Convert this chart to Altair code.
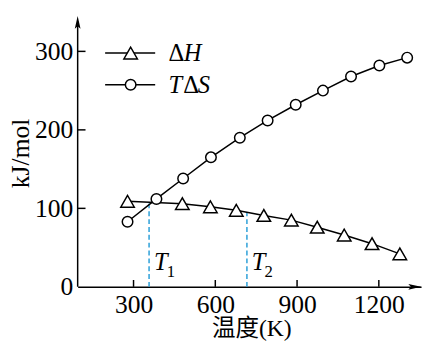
import altair as alt
import pandas as pd

# ---- data ----
tds_temps = [278, 384, 482, 584, 690, 792, 895, 995, 1098, 1202, 1304]
tds_vals = [83, 112, 138, 165, 190, 212, 232, 250, 268, 282, 292]
dh_temps = [278, 479, 582, 677, 778, 879, 974, 1073, 1175, 1277]
dh_vals = [109, 106, 102, 97.5, 91, 85, 76, 66, 55, 42]
t_temps = [357, 716]          # T1, T2
t_vals = [108, 95]            # where the dashed lines meet the ΔH curve
t_subs = ["1", "2"]
x_ticks = [300, 600, 900, 1200]
y_ticks = [100, 200, 300]
y_label_vals = [0, 100, 200, 300]

FONT = "Liberation Serif"
CJK = "Liberation Serif, Noto Sans CJK SC"
FS = 25
BLUE = "#2b9fd8"
H = 281

xs = alt.Scale(domain=[95, 1355], nice=False, zero=False)
ys = alt.Scale(domain=[0, 351.25], nice=False, zero=False)

ds = pd.DataFrame({"T": tds_temps, "v": tds_vals})
dh = pd.DataFrame({"T": dh_temps, "v": dh_vals})
tt = pd.DataFrame({"T": t_temps, "v": t_vals, "z": [0, 0], "sub": t_subs})
xt = pd.DataFrame({"T": x_ticks})
yt = pd.DataFrame({"v": y_ticks})
one = pd.DataFrame({"a": [0]})

xaxis = alt.Axis(values=x_ticks, format="d", title="温度(K)", grid=False, ticks=False, tickSize=0,
                 labelFont=FONT, labelFontSize=26, labelColor="black",
                 labelBaseline="alphabetic", labelPadding=26,
                 domainColor="black", domainWidth=1.5,
                 titleFont=CJK, titleFontSize=24, titleFontWeight="normal", titleColor="black",
                 titleBaseline="middle", titleY=43, titleX=177)
yaxis = alt.Axis(values=y_label_vals, title="kJ/mol", grid=False, ticks=False, tickSize=0,
                 domain=False,
                 labelFont=FONT, labelFontSize=26, labelColor="black",
                 labelBaseline="middle", labelPadding=5,
                 titleFont=FONT, titleFontSize=26, titleFontWeight="normal", titleColor="black",
                 titleBaseline="alphabetic", titleAngle=-90, titleX=-50, titleY=144.5,
                 titleAlign="center")

X = alt.X("T:Q", scale=xs, axis=xaxis)
Y = alt.Y("v:Q", scale=ys, axis=yaxis)

dash = alt.Chart(tt).mark_rule(color=BLUE, strokeWidth=1.5, strokeDash=[5, 3]).encode(
    x=alt.X("T:Q", scale=xs), y=alt.Y("z:Q", scale=ys), y2="v:Q")

line_ds = alt.Chart(ds).mark_line(color="black", strokeWidth=1.5).encode(x=X, y=Y)
line_dh = alt.Chart(dh).mark_line(color="black", strokeWidth=1.5).encode(x=X, y=Y)
pts_ds = alt.Chart(ds).mark_point(shape="circle", size=115, filled=True, fill="white",
                                  stroke="black", strokeWidth=1.5, opacity=1).encode(x=X, y=Y)
pts_dh = alt.Chart(dh).mark_point(shape="triangle-up", size=190, filled=True, fill="white",
                                  stroke="black", strokeWidth=1.5, opacity=1).encode(x=X, y=Y)

xtick = alt.Chart(xt).mark_rule(color="black", strokeWidth=1.5).encode(
    x=alt.X("T:Q", scale=xs), y=alt.value(H), y2=alt.value(H - 7))
ytick = alt.Chart(yt).mark_rule(color="black", strokeWidth=1.5).encode(
    y=alt.Y("v:Q", scale=ys), x=alt.value(0), x2=alt.value(8))
yline = alt.Chart(one).mark_rule(color="black", strokeWidth=1.5).encode(
    x=alt.value(0), y=alt.value(14), y2=alt.value(H))

t_lab = alt.Chart(tt).mark_text(text="T", font=FONT, fontSize=FS, fontStyle="italic",
                                align="left", baseline="alphabetic", dx=5, color="black").encode(
    x=alt.X("T:Q", scale=xs), y=alt.value(263.5))
t_sub = alt.Chart(tt).mark_text(font=FONT, fontSize=17, align="left", baseline="alphabetic",
                                dx=18, color="black").encode(
    x=alt.X("T:Q", scale=xs), y=alt.value(271), text="sub:N")


def txt(s, x, y, italic=False):
    return alt.Chart(one).mark_text(text=s, font=FONT, fontSize=FS,
                                    fontStyle="italic" if italic else "normal",
                                    align="left", baseline="middle", color="black").encode(
        x=alt.value(x), y=alt.value(y))


leg = []
for yy, shape, size in [(42.7, "triangle-up", 190), (75, "circle", 115)]:
    leg.append(alt.Chart(one).mark_rule(color="black", strokeWidth=1.5).encode(
        x=alt.value(28), x2=alt.value(79), y=alt.value(yy)))
    leg.append(alt.Chart(one).mark_point(shape=shape, size=size, filled=True, fill="white",
                                         stroke="black", strokeWidth=1.5, opacity=1).encode(
        x=alt.value(54), y=alt.value(yy)))
leg += [txt("Δ", 92.5, 42.7), txt("H", 108, 42.7, True),
        txt("T", 92.5, 75, True), txt("Δ", 107.5, 75), txt("S", 122.5, 75, True)]

arrow_up = alt.Chart(one).mark_point(shape="M0,-1L0.45,1L0,0.6L-0.45,1Z", size=169,
                                     filled=True, color="black", opacity=1).encode(
    x=alt.value(0), y=alt.value(11.5))
arrow_right = alt.Chart(one).mark_point(shape="M1,0L-1,-0.45L-0.6,0L-1,0.45Z", size=169,
                                        filled=True, color="black", opacity=1).encode(
    x=alt.value(343.5), y=alt.value(H))

chart = alt.layer(dash, line_dh, line_ds, pts_dh, pts_ds, yline, xtick, ytick, t_lab, t_sub,
                  *leg, arrow_up, arrow_right).properties(
    width=350, height=H, autosize="none",
    padding={"left": 71, "top": 0, "right": 4, "bottom": 53},
    background="white",
).configure_view(stroke="transparent")

chart.save("out.html", embed_options={"renderer": "svg", "actions": False})
